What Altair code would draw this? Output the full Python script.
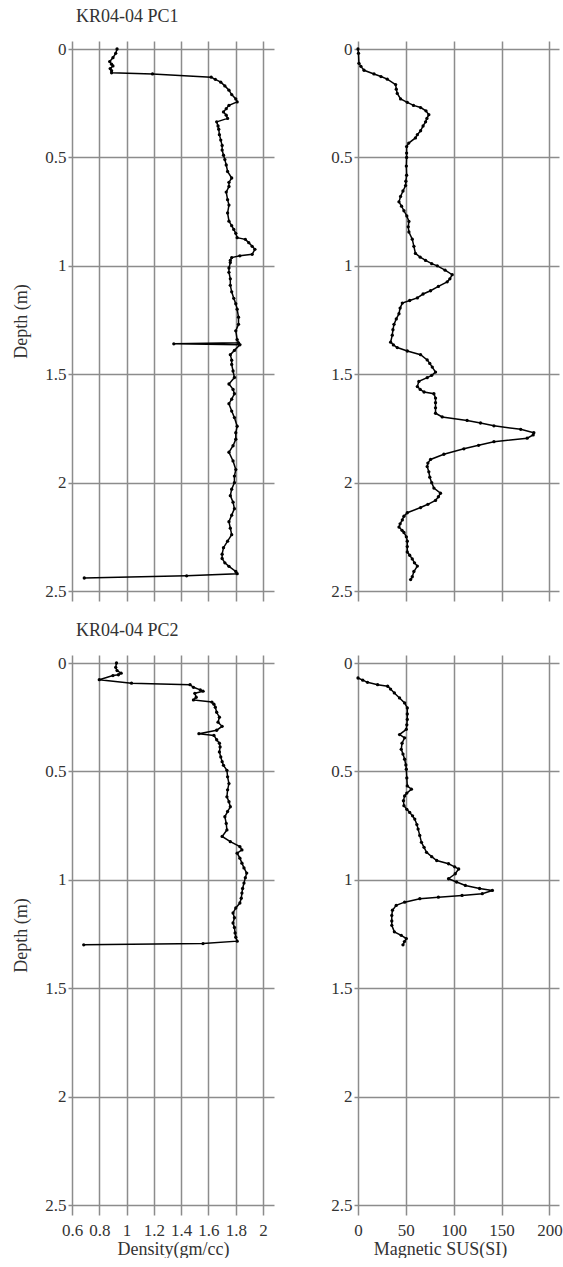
import altair as alt
import pandas as pd

# ---------------- data ----------------
pc1_den_depth = [0.00, 0.02, 0.04, 0.058, 0.07, 0.078, 0.09, 0.10, 0.11, 0.115, 0.13, 0.14, 0.153, 0.17, 0.19,
                 0.21, 0.23, 0.244, 0.26, 0.275, 0.29, 0.305, 0.32, 0.336, 0.355, 0.37, 0.395, 0.42, 0.445,
                 0.466, 0.49, 0.51, 0.535, 0.565, 0.595, 0.615, 0.634, 0.66, 0.695, 0.72, 0.756, 0.794, 0.815,
                 0.832, 0.85, 0.87, 0.878, 0.893, 0.91, 0.924, 0.947, 0.954, 0.962, 0.975, 0.985, 1.01, 1.03,
                 1.06, 1.09, 1.12, 1.15, 1.175, 1.20, 1.237, 1.27, 1.30, 1.34, 1.355, 1.36, 1.364, 1.39, 1.41,
                 1.435, 1.455, 1.485, 1.515, 1.545, 1.57, 1.59, 1.615, 1.636, 1.67, 1.70, 1.74, 1.77, 1.80,
                 1.83, 1.86, 1.90, 1.94, 1.97, 2.00, 2.03, 2.06, 2.09, 2.12, 2.15, 2.18, 2.21, 2.24, 2.27, 2.30,
                 2.33, 2.35, 2.37, 2.386, 2.41, 2.42, 2.43, 2.44]
pc1_den = [0.93, 0.92, 0.90, 0.876, 0.89, 0.90, 0.88, 0.89, 0.89, 1.19, 1.62, 1.65, 1.69, 1.72, 1.75,
           1.77, 1.80, 1.81, 1.75, 1.73, 1.71, 1.73, 1.74, 1.66, 1.67, 1.675, 1.68, 1.69, 1.70,
           1.70, 1.71, 1.72, 1.73, 1.74, 1.77, 1.75, 1.75, 1.73, 1.74, 1.75, 1.74, 1.75, 1.77,
           1.785, 1.80, 1.81, 1.87, 1.895, 1.92, 1.94, 1.92, 1.83, 1.77, 1.76, 1.76, 1.75, 1.75,
           1.76, 1.76, 1.77, 1.785, 1.80, 1.81, 1.82, 1.82, 1.80, 1.81, 1.82, 1.346, 1.83, 1.79, 1.76,
           1.77, 1.77, 1.78, 1.79, 1.75, 1.78, 1.79, 1.77, 1.75, 1.77, 1.79, 1.81, 1.80, 1.80,
           1.78, 1.75, 1.78, 1.80, 1.79, 1.79, 1.77, 1.76, 1.78, 1.79, 1.77, 1.75, 1.76, 1.77, 1.74, 1.71,
           1.70, 1.70, 1.72, 1.75, 1.80, 1.81, 1.44, 0.69]

pc1_mag_depth = [0.0, 0.02, 0.066, 0.08, 0.098, 0.115, 0.127, 0.139, 0.164, 0.185, 0.205, 0.23, 0.246, 0.26,
                 0.27, 0.285, 0.303, 0.32, 0.336, 0.355, 0.377, 0.395, 0.41, 0.434, 0.45, 0.48, 0.5, 0.54,
                 0.582, 0.61, 0.63, 0.655, 0.68, 0.705, 0.725, 0.746, 0.77, 0.795, 0.82, 0.844, 0.877, 0.91,
                 0.943, 0.96, 0.975, 0.99, 1.0, 1.02, 1.041, 1.06, 1.074, 1.095, 1.115, 1.13, 1.148, 1.16,
                 1.172, 1.195, 1.221, 1.245, 1.27, 1.295, 1.32, 1.352, 1.365, 1.377, 1.393, 1.41, 1.434,
                 1.45, 1.467, 1.49, 1.505, 1.516, 1.533, 1.557, 1.57, 1.582, 1.59, 1.61, 1.631, 1.655, 1.68,
                 1.697, 1.713, 1.725, 1.738, 1.754, 1.77, 1.78, 1.795, 1.811, 1.828, 1.844, 1.869, 1.893,
                 1.91, 1.926, 1.95, 1.975, 2.0, 2.025, 2.049, 2.065, 2.082, 2.1, 2.115, 2.139, 2.155, 2.172,
                 2.19, 2.205, 2.22, 2.23, 2.25, 2.27, 2.295, 2.32, 2.335, 2.352, 2.37, 2.385, 2.41, 2.434, 2.447]
pc1_mag = [0, 0.5, 1, 3, 6.3, 16.7, 24, 30.6, 39.3, 40, 41, 44.5, 51.5, 58,
           65.4, 71, 74, 72, 70.6, 68, 65.4, 62, 60, 53, 50.8, 50.8, 50.8, 50.5,
           50.8, 50, 49.7, 47, 44.5, 42.8, 45.5, 48, 51, 53.2, 52.5, 53.2, 56.7, 58.4,
           60, 65, 70.6, 77, 82.8, 91, 98.4, 96, 93.2, 84, 75.8, 68, 62, 54,
           46.3, 44, 42.8, 40, 37.6, 36.5, 35.8, 34.1, 37, 41, 51.5, 65.4, 72.3,
           75, 77.6, 81, 77, 72.3, 63.6, 62, 65, 69, 79.3, 81, 81, 81, 81,
           88, 114, 128, 142, 170, 183.7, 183, 176.7, 142, 126, 110.6, 89.7, 75.8,
           73, 72.3, 74, 75, 77, 79.3, 86.2, 84, 81, 73, 65.4, 51.5, 48, 46.3,
           44, 42.8, 46, 48, 50.5, 51.5, 51.5, 51.5, 54, 56.7, 59, 62, 58.4, 56.7, 55]

pc2_den_depth = [0.0, 0.02, 0.035, 0.047, 0.054, 0.058, 0.077, 0.093, 0.10, 0.112, 0.124, 0.13, 0.14, 0.158,
                 0.17, 0.18, 0.19, 0.204, 0.227, 0.25, 0.273, 0.292, 0.31, 0.326, 0.334, 0.354, 0.37, 0.387,
                 0.41, 0.433, 0.455, 0.472, 0.495, 0.525, 0.556, 0.585, 0.617, 0.64, 0.663, 0.685, 0.709,
                 0.74, 0.77, 0.80, 0.824, 0.847, 0.862, 0.877, 0.90, 0.923, 0.945, 0.969, 0.99, 1.015, 1.04,
                 1.061, 1.085, 1.107, 1.13, 1.153, 1.175, 1.199, 1.22, 1.245, 1.265, 1.283, 1.294, 1.30]
pc2_den = [0.926, 0.92, 0.93, 0.96, 0.94, 0.90, 0.80, 1.036, 1.465, 1.49, 1.54, 1.56, 1.50, 1.51,
           1.49, 1.625, 1.64, 1.65, 1.66, 1.68, 1.67, 1.70, 1.66, 1.53, 1.64, 1.66, 1.68, 1.685,
           1.68, 1.69, 1.70, 1.71, 1.735, 1.74, 1.75, 1.74, 1.735, 1.75, 1.76, 1.74, 1.72,
           1.73, 1.735, 1.70, 1.76, 1.83, 1.845, 1.81, 1.83, 1.845, 1.86, 1.88, 1.87, 1.86, 1.85,
           1.845, 1.84, 1.83, 1.80, 1.78, 1.79, 1.78, 1.79, 1.795, 1.80, 1.81, 1.56, 0.686]

pc2_mag_depth = [0.069, 0.079, 0.089, 0.10, 0.107, 0.12, 0.138, 0.161, 0.184, 0.207, 0.235, 0.26, 0.285,
                 0.306, 0.33, 0.345, 0.37, 0.398, 0.42, 0.444, 0.47, 0.49, 0.53, 0.567, 0.582, 0.6, 0.613,
                 0.635, 0.658, 0.675, 0.689, 0.705, 0.72, 0.745, 0.766, 0.795, 0.827, 0.85, 0.873, 0.893,
                 0.911, 0.926, 0.94, 0.95, 0.972, 0.995, 1.01, 1.026, 1.04, 1.049, 1.064, 1.072, 1.08,
                 1.087, 1.103, 1.118, 1.14, 1.164, 1.19, 1.21, 1.24, 1.256, 1.271, 1.285, 1.30]
pc2_mag = [0, 5, 9.9, 20.5, 31, 34, 38, 43.4, 48.7, 51.5, 51.5, 51.5, 51,
           50.5, 43.4, 48.7, 46, 45.2, 47, 48.7, 50, 50.5, 51, 51.5, 55.8, 51, 48.7,
           47.5, 48, 51, 54, 57, 59.3, 61.5, 62.8, 64.5, 66.3, 69, 71.6, 77,
           82.2, 94.6, 101, 105.2, 101.6, 94.6, 103, 112.2, 127, 140.4, 129.8, 108.7, 84,
           64.6, 48.7, 39.9, 36, 35.3, 35.3, 35.3, 38, 45.2, 50.5, 48.5, 47]

titles = ["KR04-04 PC1", "KR04-04 PC2"]
den_ticks = [0.6, 0.8, 1.0, 1.2, 1.4, 1.6, 1.8, 2.0]
mag_ticks = [0, 50, 100, 150, 200]
depth_ticks = [0, 0.5, 1.0, 1.5, 2.0, 2.5]

FONT = "Liberation Serif"
TXT = "#333333"
GRID = "#8c8c8c"
H = 560
DEPTH_DOM = [-0.037, 2.546]


def panel(depth, vals, xdom, xticks, width, title=None, xtitle=None, bottom=False,
          ytitle=None, xtitle_x=None):
    df = pd.DataFrame({"i": list(range(len(depth))), "depth": depth, "v": vals})
    xaxis_kw = dict(values=xticks, labelExpr="datum.value + ''", grid=True, domain=False,
                    ticks=False, labels=bottom, labelPadding=7, labelOverlap=False,
                    labelFlush=False, title=xtitle if bottom else None, titlePadding=2)
    if bottom and xtitle_x is not None:
        xaxis_kw["titleX"] = xtitle_x
    x = alt.X("v:Q", scale=alt.Scale(domain=xdom, nice=False, zero=False),
              axis=alt.Axis(**xaxis_kw))
    y = alt.Y("depth:Q", scale=alt.Scale(domain=DEPTH_DOM, reverse=True, nice=False, zero=False),
              axis=alt.Axis(values=depth_ticks, labelExpr="datum.value + ''", grid=True,
                            domain=False, ticks=True, tickSize=4, labelPadding=2,
                            labelOverlap=False, title=ytitle, titlePadding=14))
    line = alt.Chart(df).mark_line(color="black", strokeWidth=1.5).encode(
        x=x, y=y, order=alt.Order("i:Q"))
    pts = alt.Chart(df).mark_circle(color="black", size=11, opacity=1).encode(x=x, y=y)
    ch = alt.layer(line, pts).properties(width=width, height=H)
    if title:
        ch = ch.properties(title=alt.TitleParams(text=title, anchor="start", frame="group",
                                                 dx=4, offset=14, font=FONT, fontSize=18,
                                                 fontWeight="normal", color=TXT))
    return ch


a = panel(pc1_den_depth, pc1_den, [0.6, 2.08], den_ticks, 202, title=titles[0],
          ytitle="Depth (m)")
b = panel(pc1_mag_depth, pc1_mag, [0, 210], mag_ticks, 201)
c = panel(pc2_den_depth, pc2_den, [0.6, 2.08], den_ticks, 202, title=titles[1],
          xtitle="Density(gm/cc)", bottom=True, ytitle="Depth (m)")
d = panel(pc2_mag_depth, pc2_mag, [0, 210], mag_ticks, 201,
          xtitle="Magnetic SUS(SI)", bottom=True, xtitle_x=82)

chart = alt.ConcatChart(
    concat=[a, b, c, d], columns=2, spacing={"row": 54, "column": 84}, bounds="flush"
).properties(
    padding={"left": 12, "top": 8, "right": 0, "bottom": 0},
    background="white",
).configure_view(stroke=None).configure_axis(
    gridColor=GRID, gridWidth=1.5, gridOpacity=1, tickColor=GRID, tickWidth=1.5,
    labelFont=FONT, labelFontSize=17, labelColor=TXT,
    titleFont=FONT, titleFontSize=18, titleFontWeight="normal", titleColor=TXT,
)

chart.save("out.html", embed_options={"renderer": "svg", "actions": False})
